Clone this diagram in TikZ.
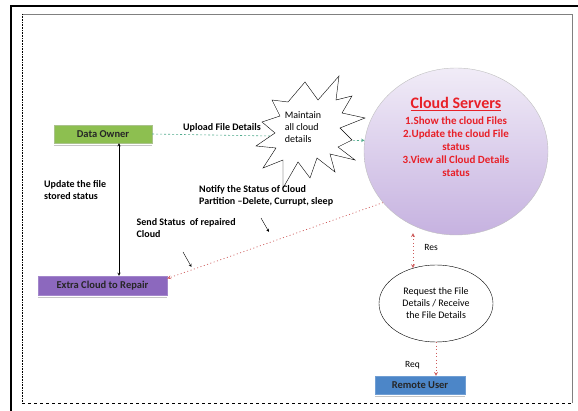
\documentclass[tikz,border=0pt]{standalone}
\usepackage{fontspec}
\setmainfont{Carlito}
\usetikzlibrary{shapes.geometric}

\definecolor{ownergreen}{RGB}{141,191,80}
\definecolor{repairpurple}{RGB}{140,104,190}
\definecolor{userblue}{RGB}{76,134,200}
\definecolor{cloudred}{RGB}{232,32,40}
\definecolor{cloudlilac}{RGB}{198,178,224}
\definecolor{linkgreen}{RGB}{80,170,140}
\definecolor{linkred}{RGB}{205,90,90}

\tikzset{
  actor/.style={rectangle, minimum height=18pt, inner sep=0pt,
    font=\fontsize{10.5}{12}\selectfont\bfseries, text=black!85},
  lbl/.style={font=\fontsize{10}{12}\selectfont\bfseries, align=left, anchor=west, inner sep=0pt},
  smalltext/.style={font=\fontsize{10}{12}\selectfont, inner sep=0pt},
  greenlink/.style={linkgreen, dash pattern=on 2pt off 2pt, line width=0.6pt},
  redlink/.style={linkred, dash pattern=on 1pt off 2.5pt, line width=0.7pt},
  shadowline/.style={gray!45, line width=1.5pt},
}

\begin{document}
\begin{tikzpicture}[x=1pt, y=-1pt, >=stealth]
  \useasboundingbox (0,0) rectangle (578,411);
  % frames
  \draw[line width=2pt] (11,411) -- (11,6) -- (578,6);
  \draw[gray, line width=0.6pt] (22,14) -- (572,14) -- (572,403);
  \draw[densely dotted, line width=0.6pt] (22,14) -- (22,403);
  \draw[dashed, line width=0.5pt] (22,403) -- (572,403);

  % boxes
  \node[actor, fill=ownergreen, draw=ownergreen!80!black!60, minimum width=98pt] (owner) at (103,134) {Data Owner};
  \draw[shadowline] ([yshift=-2.5pt]owner.south west) -- ([yshift=-2.5pt]owner.south east);
  \node[actor, fill=repairpurple, draw=repairpurple!80, minimum width=129pt, minimum height=19pt] (repair) at (102.5,285.5) {Extra Cloud to Repair};
  \draw[shadowline] ([yshift=-2.5pt]repair.south west) -- ([yshift=-2.5pt]repair.south east);
  \node[actor, fill=userblue, draw=userblue!80, minimum width=90pt] (user) at (420,385) {Remote User};
  \draw[shadowline] ([yshift=-2.5pt]user.south west) -- ([yshift=-2.5pt]user.south east);

  % cloud servers
  \node[ellipse, draw=gray!50, top color=cloudlilac!25, middle color=white, bottom color=cloudlilac,
    minimum width=184pt, minimum height=167pt] (cloud) at (456,151.5) {};
  \node[text=cloudred, font=\fontsize{16}{18}\selectfont\bfseries] (cloudtitle) at (456,104) {\underline{Cloud Servers}};
  \node[text=cloudred, font=\fontsize{11}{13}\selectfont\bfseries, align=center] (cloudlist) at (456,147)
    {1.Show the cloud Files\\2.Update the cloud File\\status\\3.View all Cloud Details\\status};

  % star (maintain details)
  \coordinate (uploadend) at (270,136);
  \coordinate (starright) at (341,141);
  \draw[greenlink] (owner.east) -- (uploadend);
  \draw[greenlink, ->] (starright) -- (cloud.173);
  \draw[fill=white, line join=miter] (339,76) -- (336,100) -- (352,96) -- (342,113) -- (365,118)
    -- (340,128) -- (352,140) -- (338,147) -- (355,160) -- (330,154) -- (335,172) -- (317,158)
    -- (310,178) -- (298,162) -- (283,188) -- (283,160) -- (263,168) -- (276,148) -- (256,146)
    -- (275,133) -- (262,122) -- (280,116) -- (272,100) -- (288,102) -- (305,82) -- (318,100) -- cycle;
  \node[smalltext, align=left] (store) at (303,127) {Maintain\\all cloud\\details};
  \node[lbl] (uploadlbl) at (183,128) {Upload File Details};

  % request ellipse
  \node[ellipse, draw, minimum width=114pt, minimum height=77pt, inner sep=0pt, smalltext, align=center] (request) at (436,303.5)
    {Request the File\\Details / Receive\\the File Details};

  % links
  \draw[<->] ([xshift=16pt]owner.south) -- ([xshift=16.5pt]repair.north);
  \draw[redlink, ->] (cloud.215) -- ([yshift=7pt]repair.east);
  \path (request.123 |- cloud.south) ++(0,-2) coordinate (restop);
  \draw[redlink, <->] (restop) -- (request.123);
  \draw[redlink, ->] (request.south) -- (request.south |- user.north);
  \node[smalltext, font=\fontsize{9.5}{11}\selectfont] (reslbl) at (431,247) {Res};
  \node[smalltext, font=\fontsize{9.5}{11}\selectfont] (reqlbl) at (412.5,365) {Req};

  % labels
  \node[lbl] (updatelbl) at (44,190) {Update the file\\stored status};
  \node[lbl] (notifylbl) at (199,196) {Notify the Status of Cloud\\Partition --Delete, Currupt, sleep};
  \node[lbl] (sendlbl) at (136.5,228) {Send Status~ of repaired\\Cloud};
  \coordinate (notifyhint) at (261,218);
  \coordinate (sendhint) at (183,252);
  \draw[->] (notifyhint) -- ++(8,14);
  \draw[->] (sendhint) -- ++(8.5,15);
\end{tikzpicture}
\end{document}
